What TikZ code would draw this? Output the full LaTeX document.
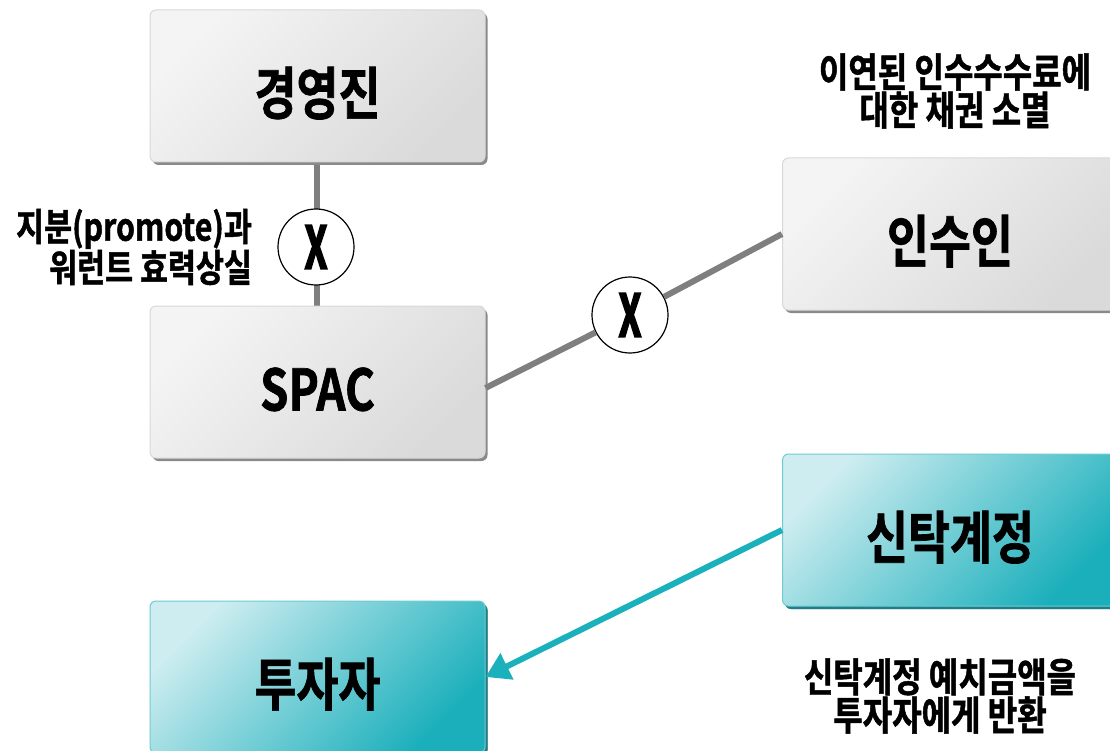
\documentclass[tikz,border=0pt]{standalone}
\usepackage{fontspec}
\newfontfamily\kr[FakeStretch=0.8,FakeBold=1.2]{Noto Sans CJK KR Bold}
\newfontfamily\krx[FakeStretch=0.62,FakeBold=2.5]{Noto Sans CJK KR Bold}
\usetikzlibrary{shadows,arrows.meta}
\definecolor{gbord}{HTML}{D8D8D8}
\definecolor{glight}{HTML}{F4F4F4}
\definecolor{gdark}{HTML}{DADADA}
\definecolor{gshad}{HTML}{8A8A8A}
\definecolor{tbord}{HTML}{6FCBD2}
\definecolor{tlight}{HTML}{CDEDF0}
\definecolor{tdark}{HTML}{1AAFBB}
\definecolor{tshad}{HTML}{1E7F88}
\definecolor{lgray}{HTML}{7F7F7F}
\definecolor{lteal}{HTML}{1AB0BC}
\tikzset{
  graybox/.style={rounded corners=6pt, minimum width=335pt, minimum height=152pt,
    draw=gbord, line width=1pt, top color=glight, bottom color=gdark, shading angle=45,
    general shadow={fill=gshad, shadow xshift=2.5pt, shadow yshift=-3pt},
    text height=57pt, text depth=0pt,
    font=\kr\fontsize{57}{60}\selectfont, text=black},
  tealbox/.style={graybox, draw=tbord, top color=tlight, bottom color=tdark, shading angle=45,
    general shadow={fill=tshad, shadow xshift=2.5pt, shadow yshift=-3pt}},
  xcirc/.style={circle, draw=black, line width=1.2pt, fill=white, minimum size=76pt, inner sep=0pt,
    font=\krx\fontsize{59}{60}\selectfont},
  glink/.style={draw=lgray, line width=6pt},
  tlink/.style={draw=lteal, line width=6pt, -{Triangle[length=24pt,width=28pt]}},
  lbl/.style={font=\kr\fontsize{40}{34}\selectfont, align=center, inner sep=0pt}
}
\begin{document}
\begin{tikzpicture}[x=1pt,y=-1pt]
\useasboundingbox (0,0) rectangle (1110,751);
\clip (0,0) rectangle (1110,751);
\draw[glink] (317,160) -- (317,308);
\node[graybox] (jy) at (317.5,86) {경영진};
\node[graybox] (spac) at (317.5,382) {SPAC};
\node[graybox] (insu) at (950,234) {인수인};
\node[tealbox] (sintak) at (950,530) {신탁계정};
\node[tealbox] (tuja) at (317.5,677) {투자자};
\node[xcirc] (x1) at (316,247) {X};
\node[xcirc] (x2) at (630,315) {X};
\draw[glink] (spac.east) ++(0,6) coordinate (se) (se) -- (x2) -- (insu.west);
\draw[tlink] (sintak.west) -- (tuja.east);
\node[lbl, align=right, font=\kr\fontsize{38}{34}\selectfont] (l1) at (134,247) {지분(promote)과\\워런트 효력상실};
\node[lbl] (l2) at (955,91) {이연된 인수수수료에\\대한 채권 소멸};
\node[lbl] (l3) at (940,696) {신탁계정 예치금액을\\투자자에게 반환};
\end{tikzpicture}
\end{document}
